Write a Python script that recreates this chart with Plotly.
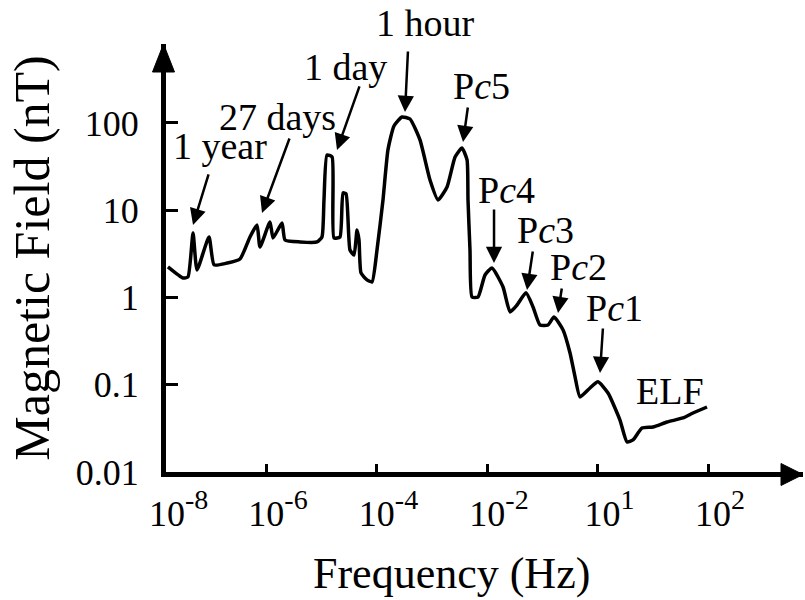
import plotly.graph_objects as go

# ---- data (frequency in Hz, field in nT) ----
freq_hz = [1.68e-8, 3.15e-8, 3.87e-8, 4.78e-8, 5.64e-8, 9.29e-8, 1.15e-7, 1.97e-7,
           3.38e-7, 5.13e-7, 6.87e-7, 7.78e-7, 1.18e-6, 1.34e-6, 1.95e-6, 2.21e-6,
           4.12e-6, 8.38e-6, 1.03e-5, 1.12e-5, 1.27e-5, 1.57e-5, 1.70e-5, 2.18e-5,
           2.48e-5, 2.81e-5, 3.31e-5, 3.92e-5, 4.44e-5, 4.82e-5, 5.24e-5, 6.73e-5,
           8.30e-5, 1.02e-4, 1.31e-4, 1.61e-4, 2.07e-4, 2.89e-4, 4.04e-4, 6.12e-4,
           9.29e-4, 1.30e-3, 1.89e-3, 2.64e-3, 3.52e-3, 4.35e-3, 4.53e-3, 4.92e-3,
           5.35e-3, 6.87e-3, 9.20e-3, 1.23e-2, 1.95e-2, 2.61e-2, 3.49e-2, 5.08e-2,
           6.81e-2, 9.10e-2, 0.127, 0.163, 0.238, 0.318, 0.392, 0.482,
           0.731, 1.02, 1.55, 2.55, 3.42, 4.39, 6.38, 10.1,
           18.1, 35.2, 53.5, 95.9]
field_nt = [2.24, 1.67, 1.72, 5.48, 2.07, 4.94, 2.36, 2.48,
            2.76, 4.94, 6.78, 3.79, 7.33, 4.81, 7.14, 4.56,
            4.33, 4.33, 4.94, 13.1, 43.0, 40.7, 4.81, 4.94,
            15.8, 15.4, 3.50, 3.07, 5.94, 4.56, 1.91, 1.59,
            1.51, 3.50, 13.1, 49.1, 92.4, 117.0, 111.0, 63.9,
            22.2, 13.1, 18.5, 40.7, 51.7, 37.7, 13.1, 3.50,
            1.01, 1.01, 1.81, 2.18, 1.32, 0.683, 0.820, 1.13,
            0.778, 0.484, 0.484, 0.597, 0.424, 0.231, 0.123, 0.0725,
            0.0918, 0.108, 0.0803, 0.0394, 0.0221, 0.0233, 0.0319, 0.0328,
            0.0374, 0.0416, 0.0474, 0.0556]

xtick_vals = [10 ** -7.80, 1e-6, 1e-4, 1e-2, 1, 1e2]
xtick_base = ["10", "10", "10", "10", "10", "10"]
xtick_exp = ["-8", "-6", "-4", "-2", "1", "2"]
ytick_vals = [0.01, 0.1, 1, 10, 100]
ytick_text = ["0.01", "0.1", "1", "10", "100"]

# labelled features: text, label position (log10 f, log10 B), arrow tip (log10 f, log10 B), arrow tail offset (px)
feature_text = ["1 year", "27 days", "1 day", "1 hour", "P<i>c</i>5",
                "P<i>c</i>4", "P<i>c</i>3", "P<i>c</i>2", "P<i>c</i>1", "ELF"]
label_logf = [-6.833, -5.801, -4.570, -3.122, -2.091, -1.656, -0.950, -0.353, 0.299, 1.312]
label_logb = [1.736, 2.069, 2.642, 3.146, 2.424, 1.232, 0.774, 0.350, -0.120, -1.072]
tip_logf = [-7.321, -6.072, -4.715, -3.484, -2.434, -1.873, -1.276, -0.715, 0.045, None]
tip_logb = [0.831, 0.968, 1.691, 2.126, 1.782, 0.395, 0.086, -0.178, -0.865, None]
tail_dx = [16, 28, 23, 3, 5, 0, 6, 4, 3, None]
tail_dy = [-52, -76, -65, -62, -36, -55, -40, -26, -46, None]

X_RANGE = [-7.81, 3.719]
Y_RANGE = [-2.0, 2.905]

FONT = "'Liberation Serif', serif"

xtick_text = [b + "<span style='font-size:40px'><sup>" + e + "</sup></span>"
              for b, e in zip(xtick_base, xtick_exp)]

fig = go.Figure()
fig.add_trace(go.Scatter(
    x=freq_hz, y=field_nt, mode="lines",
    line=dict(color="black", width=3.5, shape="spline", smoothing=0.5),
    showlegend=False, hoverinfo="skip"))


def to_paper(v, rng):
    return (v - rng[0]) / (rng[1] - rng[0])


annotations = []
for i, t in enumerate(feature_text):
    annotations.append(dict(x=to_paper(label_logf[i], X_RANGE), y=to_paper(label_logb[i], Y_RANGE),
                            xref="paper", yref="paper",
                            text=t, showarrow=False, xanchor="center", yanchor="middle",
                            font=dict(family=FONT, size=38, color="black")))
    if tip_logf[i] is not None:
        annotations.append(dict(x=tip_logf[i], y=tip_logb[i], xref="x", yref="y",
                                text="", showarrow=True, ax=tail_dx[i], ay=tail_dy[i],
                                arrowhead=2, arrowsize=1.3, arrowwidth=2.5,
                                arrowcolor="black", standoff=0))
annotations.append(dict(x=0.448, y=-0.236, xref="paper", yref="paper",
                        text="Frequency (Hz)", showarrow=False,
                        xanchor="center", yanchor="middle",
                        font=dict(family=FONT, size=44, color="black")))

shapes = [
    # arrowhead of the y axis
    dict(type="path", xref="paper", yref="paper", xsizemode="pixel", ysizemode="pixel",
         xanchor=0, yanchor=1, path="M -2.5,0 L -13.5,-28 L 8.5,-28 Z",
         fillcolor="black", line=dict(color="black", width=1)),
    # arrowhead of the x axis
    dict(type="path", xref="paper", yref="paper", xsizemode="pixel", ysizemode="pixel",
         xanchor=1, yanchor=0, path="M 0,-2.5 L -22,8.5 L -22,-13.5 Z",
         fillcolor="black", line=dict(color="black", width=1)),
]

fig.update_layout(
    width=805, height=600,
    margin=dict(l=166, r=2, t=44, b=128),
    paper_bgcolor="white", plot_bgcolor="white",
    font=dict(family=FONT, color="black"),
    annotations=annotations, shapes=shapes,
    xaxis=dict(type="log", range=X_RANGE,
               tickvals=xtick_vals, ticktext=xtick_text,
               showline=True, linewidth=5, linecolor="black",
               ticks="inside", ticklen=8, tickwidth=2.5, tickcolor="black",
               showgrid=False, zeroline=False, ticklabelshift=12, ticklabelstandoff=6,
               tickfont=dict(family=FONT, size=36, color="black")),
    yaxis=dict(type="log", range=Y_RANGE,
               tickvals=ytick_vals, ticktext=ytick_text,
               showline=True, linewidth=5, linecolor="black",
               ticks="inside", ticklen=12, tickwidth=2.5, tickcolor="black",
               showgrid=False, zeroline=False, ticklabelstandoff=15,
               tickfont=dict(family=FONT, size=36, color="black"),
               title=dict(text="Magnetic Field (nT)", standoff=12,
                          font=dict(family=FONT, size=50, color="black"))),
)

fig.write_html("out.html")
